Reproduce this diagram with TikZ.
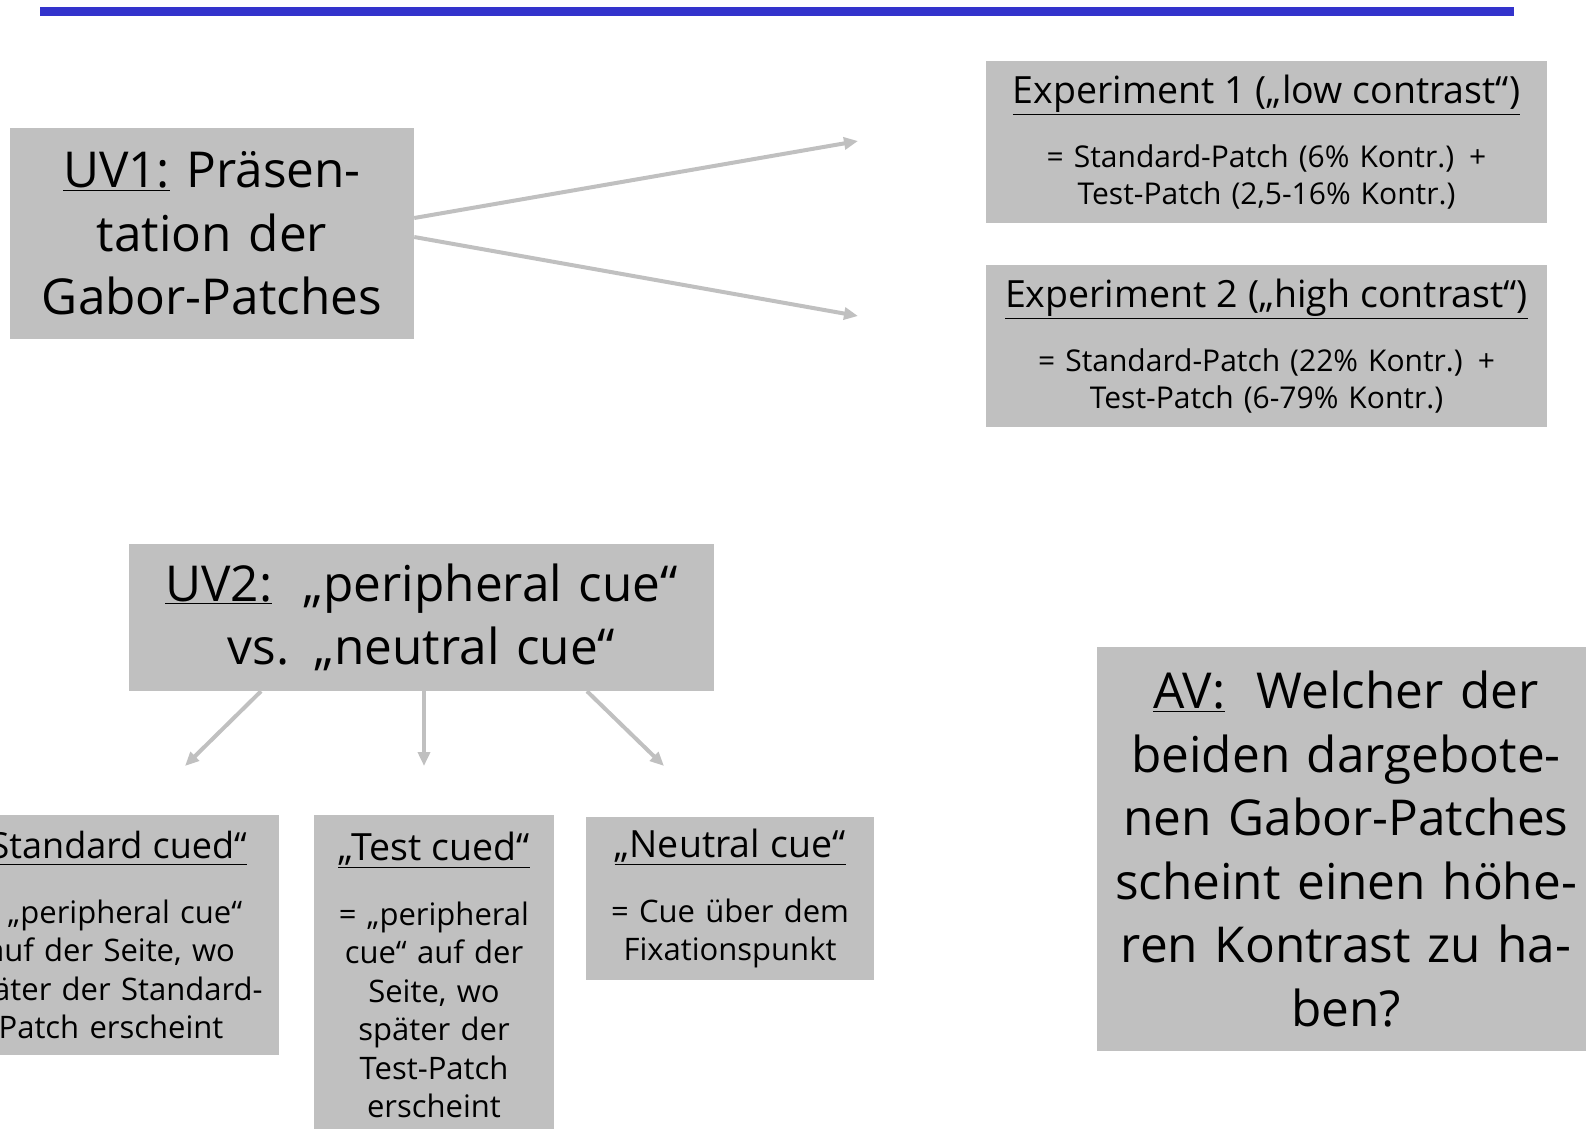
\documentclass[tikz,border=0pt]{standalone}
\usepackage{fontspec}
\setmainfont{Open Sans}
\usetikzlibrary{arrows.meta}
\definecolor{boxgray}{RGB}{192,192,192}
\definecolor{barblue}{RGB}{51,51,204}
\newcommand{\bigtext}{\fontsize{49.5}{63.5}\selectfont}
\newcommand{\headtext}{\fontsize{37.5}{40}\selectfont}
\newcommand{\smalltext}{\fontsize{30}{36.5}\selectfont}
\newcommand{\cuetext}{\fontsize{31}{38.5}\selectfont}
\begin{document}
\begin{tikzpicture}[x=1pt,y=-1pt,
  box/.style={fill=boxgray,inner sep=0pt,align=center},
  link/.style={draw=boxgray,line width=4pt,-{Triangle[length=14pt,width=12pt]}}]
  \useasboundingbox (0,0) rectangle (1586,1128);
  \fill[barblue] (40,7) rectangle (1514,16);
  \node[box,minimum width=404pt,minimum height=211pt,text width=396pt,font=\bigtext] (uv1) at (212,233.5)
    {\underline{UV1:} Präsen-\\tation der\\Gabor-Patches};
  \node[box,minimum width=561pt,minimum height=162pt,text width=555pt,font=\smalltext] (exp1) at (1266.5,142)
    {{\headtext\underline{Experiment 1 („low contrast“)}}\\[28pt]
     = Standard-Patch (6\% Kontr.) +\\Test-Patch (2,5-16\% Kontr.)};
  \node[box,minimum width=561pt,minimum height=162pt,text width=555pt,font=\smalltext] (exp2) at (1266.5,346)
    {{\headtext\underline{Experiment 2 („high contrast“)}}\\[28pt]
     = Standard-Patch (22\% Kontr.) +\\Test-Patch (6-79\% Kontr.)};
  \coordinate (exp1tip) at (858,141);
  \coordinate (exp2tip) at (858,316);
  \draw[link] ([yshift=15.5pt]uv1.east) -- (exp1tip);
  \draw[link] ([yshift=-3.5pt]uv1.east) -- (exp2tip);
  \node[box,minimum width=585pt,minimum height=147pt,text width=580pt,font=\bigtext] (uv2) at (421.5,617.5)
    {\underline{UV2:}\hspace{0.3em} „peripheral cue“\\vs. „neutral cue“};
  \node[box,minimum width=336pt,minimum height=240pt,text width=332pt,font=\cuetext] (std) at (111,935)
    {{\fontsize{36}{40}\selectfont\underline{„Standard cued“}}\\[26pt]
     = „peripheral cue“\\auf der Seite, wo\\später der Standard-\\Patch erscheint};
  \node[box,minimum width=240pt,minimum height=320pt,text width=238pt,font=\cuetext] (test) at (434,975)
    {{\headtext\underline{„Test cued“}}\\[26pt]
     = „peripheral\\cue“ auf der\\Seite, wo\\später der\\Test-Patch\\erscheint};
  \node[box,minimum width=288pt,minimum height=163pt,text width=284pt,font=\cuetext] (neutral) at (730,898.5)
    {{\headtext\underline{„Neutral cue“}}\\[26pt]
     = Cue über dem\\Fixationspunkt};
  \coordinate (stdtip) at (185,766);
  \coordinate (testtip) at (424,766);
  \coordinate (neutraltip) at (664,766);
  \draw[link] ([xshift=-160.5pt]uv2.south) -- (stdtip);
  \draw[link] ([xshift=2.5pt]uv2.south) -- (testtip);
  \draw[link] ([xshift=165.5pt]uv2.south) -- (neutraltip);
  \node[box,minimum width=498pt,minimum height=404pt,text width=494pt,font=\bigtext] (av) at (1346,849)
    {\underline{AV:}\hspace{0.3em} Welcher der\\beiden dargebote-\\nen Gabor-Patches\\scheint einen höhe-\\ren Kontrast zu ha-\\ben?};
\end{tikzpicture}
\end{document}
